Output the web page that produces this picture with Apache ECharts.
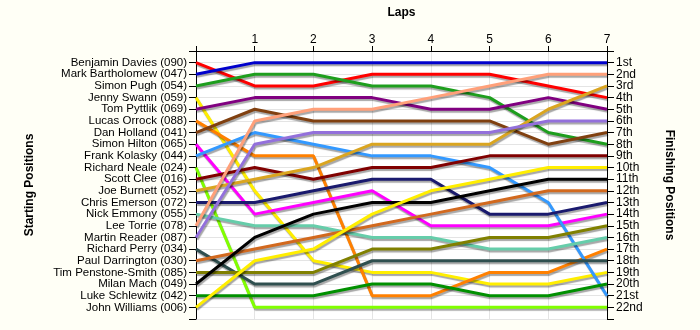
<!DOCTYPE html>
<html><head><meta charset="utf-8">
<script src="https://cdn.jsdelivr.net/npm/echarts@6/dist/echarts.min.js"></script>
<style>html,body{margin:0;padding:0;background:#FFFFF6;}#c{width:700px;height:330px;}</style>
</head><body><div id="c"></div>
<script>
const laps = [0, 1, 2, 3, 4, 5, 6, 7];
const lapLabels = ['', '1', '2', '3', '4', '5', '6', '7'];
const drivers = ['Benjamin Davies (090)', 'Mark Bartholomew (047)', 'Simon Pugh (054)', 'Jenny Swann (059)', 'Tom Pyttlik (069)', 'Lucas Orrock (088)', 'Dan Holland (041)', 'Simon Hilton (065)', 'Frank Kolasky (044)', 'Richard Neale (024)', 'Scott Clee (016)', 'Joe Burnett (052)', 'Chris Emerson (072)', 'Nick Emmony (055)', 'Lee Torrie (078)', 'Martin Reader (087)', 'Richard Perry (034)', 'Paul Darrington (030)', 'Tim Penstone-Smith (085)', 'Milan Mach (049)', 'Luke Schlewitz (042)', 'John Williams (006)'];
const finishLabels = ['1st', '2nd', '3rd', '4th', '5th', '6th', '7th', '8th', '9th', '10th', '11th', '12th', '13th', '14th', '15th', '16th', '17th', '18th', '19th', '20th', '21st', '22nd'];
const colors = ['#FF0000', '#0000CC', '#1E9E1E', '#FFEE00', '#800080', '#FF8000', '#804010', '#FF00FF', '#3399FF', '#80FF00', '#800000', '#DAA520', '#1A1A6E', '#66CDAA', '#FFA07A', '#9370DB', '#2F4F4F', '#D2691E', '#808000', '#000000', '#009000', '#FFEE00'];
// positions per lap (lap 0..7)
const positions = [
  [1, 3, 3, 2, 2, 2, 3, 4],
  [2, 1, 1, 1, 1, 1, 1, 1],
  [3, 2, 2, 3, 3, 4, 7, 8],
  [4, 12, 18, 19, 19, 20, 20, 19],
  [5, 4, 4, 4, 5, 5, 4, 5],
  [6, 9, 9, 21, 21, 19, 19, 17],
  [7, 5, 6, 6, 6, 6, 8, 7],
  [8, 14, 13, 12, 15, 15, 15, 14],
  [9, 7, 8, 9, 9, 10, 13, 21],
  [10, 22, 22, 22, 22, 22, 22, 22],
  [11, 10, 11, 10, 10, 9, 9, 9],
  [12, 11, 10, 8, 8, 8, 5, 3],
  [13, 13, 12, 11, 11, 14, 14, 13],
  [14, 15, 15, 16, 16, 17, 17, 16],
  [15, 6, 5, 5, 4, 3, 2, 2],
  [16, 8, 7, 7, 7, 7, 6, 6],
  [17, 20, 20, 18, 18, 18, 18, 18],
  [18, 17, 16, 15, 14, 13, 12, 12],
  [19, 19, 19, 17, 17, 16, 16, 15],
  [20, 16, 14, 13, 13, 12, 11, 11],
  [21, 21, 21, 20, 20, 21, 21, 20],
  [22, 18, 17, 14, 12, 11, 10, 10]
];

const FONT = 'Liberation Sans';
const series = drivers.map((name, i) => ({
  name: name,
  type: 'line',
  data: laps.map((l, j) => [l, positions[i][j]]),
  showSymbol: false,
  symbol: 'none',
  animation: false,
  lineStyle: { width: 3, color: colors[i], shadowColor: 'rgba(0,0,0,0.35)', shadowOffsetX: 1, shadowOffsetY: 2, shadowBlur: 1 },
  itemStyle: { color: colors[i] },
  z: 3
}));

const chart = echarts.init(document.getElementById('c'));
chart.setOption({
  backgroundColor: '#FFFFF6',
  animation: false,
  grid: { left: 196, right: 93, top: 51, bottom: 11, show: true, backgroundColor: '#FFFFFF', borderWidth: 0, containLabel: false },
  xAxis: {
    type: 'value', position: 'top', min: 0, max: 7, interval: 1,
    name: 'Laps', nameLocation: 'middle', nameGap: 32,
    nameTextStyle: { fontFamily: FONT, fontWeight: 'bold', fontSize: 12, color: '#000' },
    axisLine: { show: true, lineStyle: { color: '#000', width: 1 } },
    axisTick: { show: true, length: 5, lineStyle: { color: '#000' } },
    axisLabel: { fontFamily: FONT, fontSize: 12, color: '#000', margin: 5, formatter: v => lapLabels[v] || '' },
    splitLine: { show: true, lineStyle: { color: '#E4E4E4', width: 1 } }
  },
  yAxis: [
    {
      type: 'value', inverse: true, min: 0, max: 23, interval: 1, position: 'left',
      name: 'Starting Positions', nameLocation: 'middle', nameGap: 160, nameRotate: 90,
      nameTextStyle: { fontFamily: FONT, fontWeight: 'bold', fontSize: 12, color: '#000' },
      axisLine: { show: true, lineStyle: { color: '#000', width: 1 } },
      axisTick: { show: true, length: 7, lineStyle: { color: '#000' } },
      axisLabel: { fontFamily: FONT, fontSize: 11.5, color: '#000', margin: 9, formatter: v => drivers[v - 1] || '' },
      splitLine: { show: true, lineStyle: { color: '#E4E4E4', width: 1 } }
    },
    {
      type: 'value', inverse: true, min: 0, max: 23, interval: 1, position: 'right',
      name: 'Finishing Positions', nameLocation: 'middle', nameGap: 56, nameRotate: -90,
      nameTextStyle: { fontFamily: FONT, fontWeight: 'bold', fontSize: 12, color: '#000' },
      axisLine: { show: true, lineStyle: { color: '#000', width: 1 } },
      axisTick: { show: true, length: 7, lineStyle: { color: '#000' } },
      axisLabel: { fontFamily: FONT, fontSize: 12, color: '#000', margin: 9, formatter: v => finishLabels[v - 1] || '' },
      splitLine: { show: false }
    }
  ],
  series: series
});
</script></body></html>
